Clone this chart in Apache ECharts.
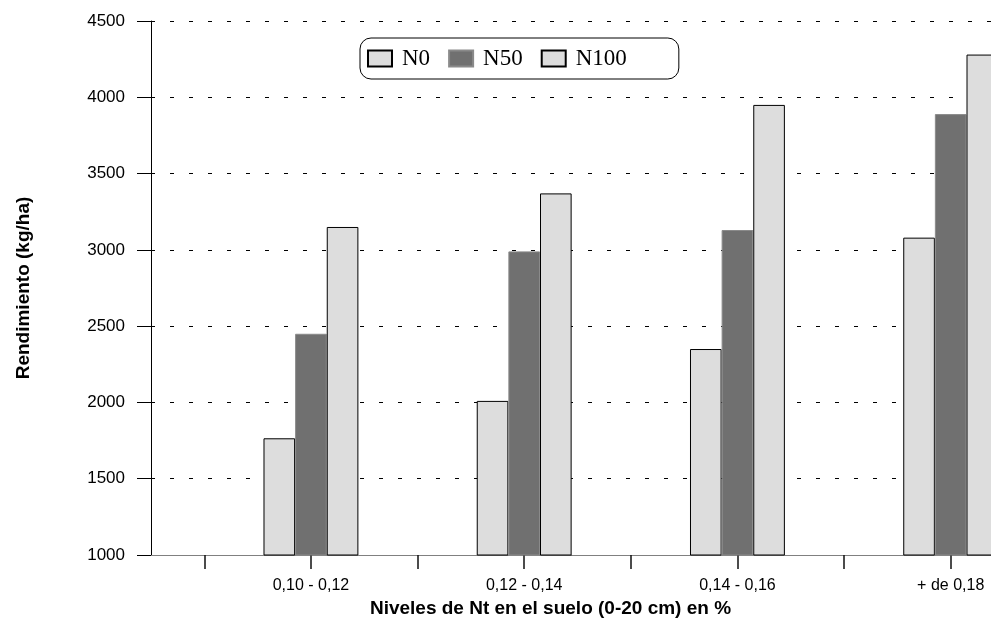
<!DOCTYPE html>
<html>
<head>
<meta charset="utf-8">
<script src="https://cdn.jsdelivr.net/npm/echarts@6/dist/echarts.min.js"></script>
<style>html,body{margin:0;padding:0;background:#fff;}#c{width:991px;height:639px;}</style>
</head>
<body>
<div id="c"></div>
<script>
const groups = ['0,10 - 0,12', '0,12 - 0,14', '0,14 - 0,16', '+ de 0,18'];
const seriesNames = ['N0', 'N50', 'N100'];
const n0 = [1765, 2010, 2350, 3080];
const n50 = [2450, 2990, 3130, 3890];
const n100 = [3150, 3370, 3950, 4280];
const yTicks = [1000, 1500, 2000, 2500, 3000, 3500, 4000, 4500];

// Axis has an unlabeled spacer slot before every group (as in the original layout)
const slots = [];
groups.forEach(g => { slots.push('-'); slots.push(g); });
const spread = arr => { const out = []; arr.forEach(v => { out.push(null); out.push(v); }); return out; };

const light = '#dddddd', dark = '#707070';
const chart = echarts.init(document.getElementById('c'), null, {renderer: 'canvas'});
chart.setOption({
  animation: false,
  backgroundColor: '#ffffff',
  grid: {left: 151, top: 21, right: -13, bottom: 84, containLabel: false, outerBoundsMode: 'none'},
  legend: {
    data: seriesNames,
    left: 360, top: 38,
    orient: 'horizontal',
    icon: 'rect',
    itemWidth: 24, itemHeight: 16, itemGap: 18,
    padding: [9, 52, 9, 7],
    borderColor: '#000', borderWidth: 1, borderRadius: 11,
    backgroundColor: '#fff',
    textStyle: {fontFamily: 'Liberation Serif', fontSize: 23, color: '#000', padding: [0, 0, 0, 5]}
  },
  xAxis: [{
    type: 'category',
    data: slots,
    boundaryGap: true,
    name: 'Niveles de Nt en el suelo (0-20 cm) en %',
    nameLocation: 'middle',
    nameGap: 37,
    nameTextStyle: {fontFamily: 'Liberation Sans', fontWeight: 'bold', fontSize: 19, color: '#000', padding: [0, 54, 0, 0]},
    axisLine: {show: true, lineStyle: {color: '#808080', width: 1}},
    axisTick: {show: true, interval: 0, alignWithLabel: true, length: 14, lineStyle: {color: '#111', width: 1.5}},
    axisLabel: {interval: 0, margin: 23, fontFamily: 'Liberation Sans', fontSize: 16, color: '#000',
      formatter: v => (v === '-' ? '' : v)},
    splitLine: {show: false}
  }],
  yAxis: {
    type: 'value',
    min: 1000, max: 4500, interval: 500,
    name: 'Rendimiento (kg/ha)',
    nameLocation: 'middle',
    nameGap: 118,
    nameRotate: 90,
    nameTextStyle: {fontFamily: 'Liberation Sans', fontWeight: 'bold', fontSize: 19, color: '#000'},
    axisLine: {show: true, lineStyle: {color: '#000', width: 1}},
    axisTick: {show: true, length: 14, lineStyle: {color: '#000'}},
    axisLabel: {margin: 26, fontFamily: 'Liberation Sans', fontSize: 17, color: '#000',
      formatter: v => yTicks.indexOf(v) >= 0 ? String(v) : ''},
    splitLine: {show: true, lineStyle: {color: '#000', type: [4, 15], width: 1}}
  },
  series: [
    {name: 'N0', type: 'bar', data: spread(n0), barGap: '0%', barCategoryGap: '11%',
     itemStyle: {color: light, borderColor: '#000', borderWidth: 1}},
    {name: 'N50', type: 'bar', data: spread(n50), barGap: '0%', barCategoryGap: '11%',
     itemStyle: {color: dark, borderColor: '#8a8a8a', borderWidth: 1}},
    {name: 'N100', type: 'bar', data: spread(n100), barGap: '0%', barCategoryGap: '11%',
     itemStyle: {color: light, borderColor: '#000', borderWidth: 1}}
  ]
});
</script>
</body>
</html>
